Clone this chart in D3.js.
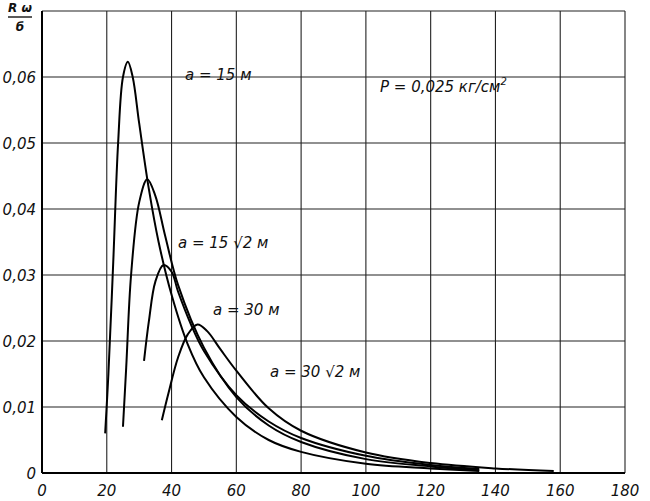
<!DOCTYPE html>
<html><head><meta charset="utf-8">
<script src="https://cdn.jsdelivr.net/npm/d3@7"></script>
<style>
body{margin:0;background:#fff;}
text{font-family:"DejaVu Sans",sans-serif;font-style:italic;fill:#111;}
</style></head>
<body><svg id="chart" width="650" height="501"></svg>
<script>
var xTicks = [0,20,40,60,80,100,120,140,160,180];
var yTicks = [0,0.01,0.02,0.03,0.04,0.05,0.06,0.07];
var yTickLabels = ["0","0,01","0,02","0,03","0,04","0,05","0,06",""];

// curve a = 15 m
var curve15 = [[19.5,0.006],[20.5,0.015],[22,0.032],[23.5,0.05],[25,0.06],[26.5,0.0623],[28,0.06],[30,0.053],[33,0.043],[36,0.035],[40,0.027],[45,0.0195],[50,0.0145],[60,0.0085],[70,0.005],[80,0.0032],[100,0.0014],[120,0.0007],[135,0.0003]];
// curve a = 15√2 m
var curve15r2 = [[25,0.007],[26,0.016],[27.5,0.03],[30,0.041],[32.5,0.0445],[35,0.042],[38,0.036],[42,0.0285],[50,0.019],[60,0.0115],[70,0.0072],[80,0.0047],[100,0.0021],[120,0.001],[135,0.0004]];
// curve a = 30 m
var curve30 = [[31.5,0.017],[33,0.023],[35,0.029],[37.5,0.0315],[40,0.0305],[42,0.0275],[46,0.0225],[50,0.0185],[60,0.0118],[70,0.0078],[80,0.0053],[100,0.0026],[120,0.0012],[135,0.0006]];
// curve a = 30√2 m
var curve30r2 = [[37,0.008],[39,0.012],[42,0.0175],[45,0.021],[48,0.0225],[51,0.0215],[55,0.0188],[60,0.0155],[70,0.0098],[80,0.0064],[100,0.0031],[120,0.0015],[140,0.0007],[158,0.0003]];

var svg = d3.select("#chart");
var x = d3.scaleLinear().domain([0,180]).range([42,625]);
var y = d3.scaleLinear().domain([0,0.07]).range([473,11]);

// grid
svg.selectAll("line.vx").data(xTicks).enter().append("line")
  .attr("x1", d => x(d)).attr("x2", d => x(d)).attr("y1", y(0)).attr("y2", y(0.07))
  .attr("stroke","#222").attr("stroke-width",1.1);
svg.selectAll("line.hy").data(yTicks).enter().append("line")
  .attr("x1", x(0)).attr("x2", x(180)).attr("y1", d => y(d)).attr("y2", d => y(d))
  .attr("stroke","#222").attr("stroke-width",1.1);
svg.append("line").attr("x1",x(0)).attr("x2",x(180)).attr("y1",y(0)).attr("y2",y(0)).attr("stroke","#000").attr("stroke-width",2);
svg.append("line").attr("x1",x(0)).attr("x2",x(0)).attr("y1",y(0)).attr("y2",y(0.07)).attr("stroke","#000").attr("stroke-width",2);

svg.selectAll("text.xt").data(xTicks).enter().append("text")
  .attr("x", d => x(d)).attr("y", 496).attr("text-anchor","middle").attr("font-size",15).text(d => d);
svg.selectAll("text.yt").data(yTicks).enter().append("text")
  .attr("x", 36).attr("y", d => y(d)+6).attr("text-anchor","end").attr("font-size",15)
  .text((d,i) => yTickLabels[i]);

// y label
svg.append("text").attr("x",20).attr("y",12).attr("text-anchor","middle").attr("font-size",12).attr("font-weight","bold").text("R ω");
svg.append("line").attr("x1",8).attr("x2",32).attr("y1",17).attr("y2",17).attr("stroke","#000").attr("stroke-width",1.3);
svg.append("text").attr("x",20).attr("y",31).attr("text-anchor","middle").attr("font-size",12).attr("font-weight","bold").text("б");

var line = d3.line().x(d => x(d[0])).y(d => y(d[1])).curve(d3.curveCatmullRom);
[curve15, curve15r2, curve30, curve30r2].forEach(function(c){
  svg.append("path").attr("d", line(c)).attr("fill","none").attr("stroke","#000").attr("stroke-width",2);
});

function lab(px, py, t){ svg.append("text").attr("x",px).attr("y",py).attr("font-size",15).text(t); }
lab(185,80,"a = 15 м");
lab(178,248,"a = 15 √2 м");
lab(213,315,"a = 30 м");
lab(270,377,"a = 30 √2 м");
svg.append("text").attr("x",380).attr("y",92).attr("font-size",15).html("P = 0,025 кг/см<tspan dy='-7' font-size='10'>2</tspan>");
</script></body></html>
